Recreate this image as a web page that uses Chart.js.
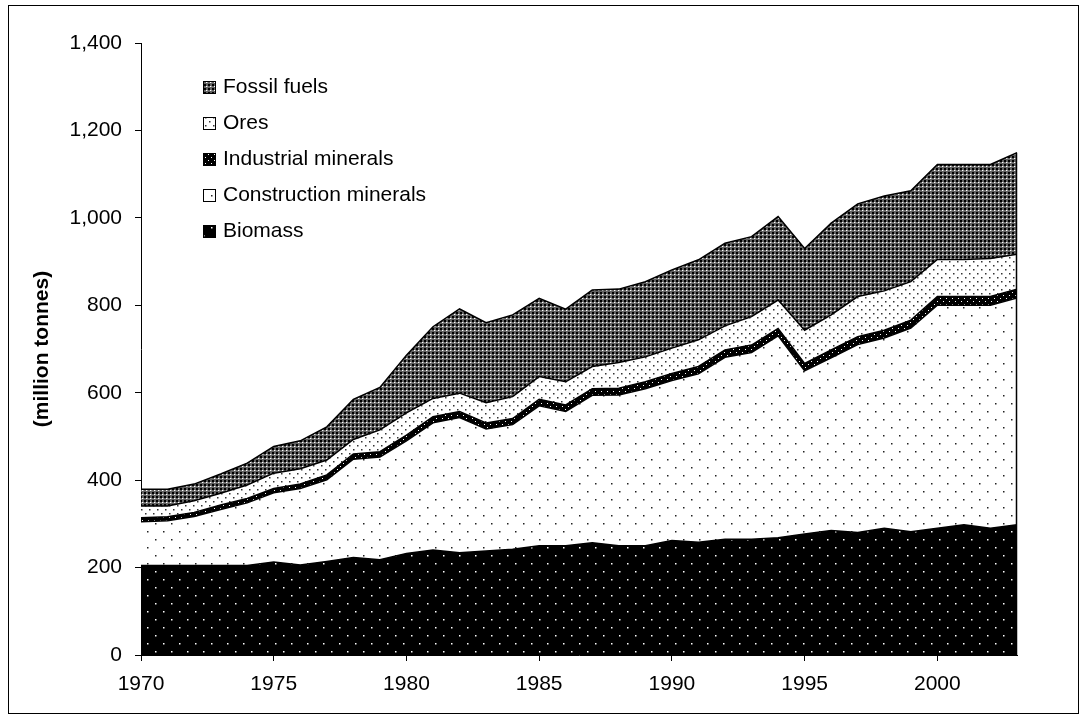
<!DOCTYPE html>
<html>
<head>
<meta charset="utf-8">
<script src="https://cdn.jsdelivr.net/npm/chart.js@4.4.0/dist/chart.umd.min.js"></script>
<style>
  html, body { margin: 0; padding: 0; background: #fff; }
  #wrap { position: relative; width: 1087px; height: 719px; }
  #frame { position: absolute; left: 8px; top: 5px; width: 1069px; height: 707px; border: 1px solid #000; pointer-events: none; }
</style>
</head>
<body>
<div id="wrap">
  <canvas id="myChart" width="1087" height="719"></canvas>
  <div id="frame"></div>
</div>
<script>
const years = [1970, 1971, 1972, 1973, 1974, 1975, 1976, 1977, 1978, 1979,
  1980, 1981, 1982, 1983, 1984, 1985, 1986, 1987, 1988, 1989,
  1990, 1991, 1992, 1993, 1994, 1995, 1996, 1997, 1998, 1999,
  2000, 2001, 2002, 2003];
const biomass = [205, 205, 205, 205, 205, 213, 206, 214, 223, 218, 232, 240, 234, 238, 242, 250, 250, 257, 250, 250, 262, 258, 265, 265, 268, 277, 285, 280, 290, 282, 290, 298, 290, 298];
const construction = [100, 102, 112, 128, 143, 158, 175, 187, 225, 235, 258, 291, 309, 279, 285, 320, 307, 337, 345, 359, 366, 385, 416, 427, 462, 373, 395, 430, 435, 466, 510, 502, 510, 519];
const industrial = [9, 9, 9, 10, 10, 10, 10, 11, 12, 12, 13, 14, 14, 14, 14, 15, 15, 15, 15, 16, 16, 17, 17, 17, 17, 17, 18, 18, 18, 18, 20, 20, 20, 20];
const ores = [27, 25, 27, 27, 31, 35, 35, 34, 33, 50, 51, 42, 42, 46, 50, 52, 53, 51, 59, 57, 58, 61, 55, 65, 65, 76, 80, 92, 90, 88, 85, 85, 87, 80];
const fossil = [38, 38, 38, 44, 50, 61, 64, 76, 92, 97, 132, 164, 193, 183, 187, 179, 166, 175, 168, 172, 179, 183, 189, 183, 191, 187, 210, 212, 217, 208, 217, 217, 215, 232];
const seriesNames = ['Biomass', 'Construction minerals', 'Industrial minerals', 'Ores', 'Fossil fuels'];

const FONT = 'Arial, "Liberation Sans", sans-serif';

// small tiled fills like the old office hatch patterns
function dotPattern(bg, dot, w, h, spots, size) {
  const c = document.createElement('canvas');
  c.width = w; c.height = h;
  const g = c.getContext('2d');
  g.fillStyle = bg;
  g.fillRect(0, 0, w, h);
  g.fillStyle = dot;
  spots.forEach(p => g.fillRect(p[0], p[1], size, size));
  return g.createPattern(c, 'repeat');
}

function trellisPattern() {
  const c = document.createElement('canvas');
  c.width = 4; c.height = 4;
  const g = c.getContext('2d');
  g.fillStyle = '#626262';
  g.fillRect(0, 0, 4, 4);
  g.fillStyle = '#000';
  g.fillRect(0, 0, 2, 2);
  g.fillStyle = '#fff';
  g.fillRect(2, 2, 1, 1);
  g.fillStyle = '#a0a0a0';
  g.fillRect(3, 2, 1, 1);
  return g.createPattern(c, 'repeat');
}

const fills = [
  dotPattern('#000', '#fff', 16, 16, [[3, 3], [11, 11]], 1.5),
  dotPattern('#fff', '#222', 16, 16, [[3, 3], [11, 11]], 1.5),
  dotPattern('#000', '#fff', 6, 6, [[1, 1], [4, 4]], 1),
  dotPattern('#fff', '#333', 8, 8, [[1, 1], [5, 5]], 1.5),
  trellisPattern()
];

const values = [biomass, construction, industrial, ores, fossil];

const legendBoxes = {
  id: 'legendBoxes',
  afterDraw(chart) {
    const ctx = chart.ctx;
    const sets = chart.data.datasets.slice().reverse();
    ctx.save();
    ctx.font = '21px ' + FONT;
    ctx.textBaseline = 'middle';
    sets.forEach((ds, i) => {
      const y = 87 + i * 36;
      ctx.fillStyle = ds.backgroundColor;
      ctx.fillRect(203, y - 6, 13, 13);
      ctx.strokeStyle = '#000';
      ctx.lineWidth = 1;
      ctx.strokeRect(203.5, y - 5.5, 12, 12);
      ctx.fillStyle = '#000';
      ctx.fillText(ds.label, 223, y);
    });
    ctx.restore();
  }
};

// closing edge of the stacked area at the last year
const rightEdge = {
  id: 'rightEdge',
  afterDatasetsDraw(chart) {
    const { ctx, scales } = chart;
    const last = years.length - 1;
    const total = values.reduce((s, arr) => s + arr[last], 0);
    const x = Math.round(scales.x.getPixelForValue(years[last])) - 0.5;
    ctx.save();
    ctx.strokeStyle = '#000';
    ctx.lineWidth = 1.5;
    ctx.beginPath();
    ctx.moveTo(x, scales.y.getPixelForValue(total));
    ctx.lineTo(x, scales.y.getPixelForValue(0));
    ctx.stroke();
    ctx.restore();
  }
};

Chart.defaults.font.family = FONT;
Chart.defaults.color = '#000';

new Chart(document.getElementById('myChart').getContext('2d'), {
  type: 'line',
  data: {
    datasets: seriesNames.map((name, i) => ({
      label: name,
      data: years.map((yr, j) => ({ x: yr, y: values[i][j] })),
      fill: i === 0 ? 'origin' : '-1',
      backgroundColor: fills[i],
      borderColor: '#000',
      borderWidth: 1.5,
      pointRadius: 0,
      tension: 0
    }))
  },
  options: {
    responsive: false,
    animation: false,
    layout: { padding: { top: 43, right: 70, left: 0, bottom: 0 } },
    plugins: {
      legend: { display: false },
      tooltip: { enabled: false }
    },
    scales: {
      x: {
        type: 'linear',
        min: 1970,
        max: 2003,
        afterFit: s => { s.height = 64; },
        grid: { drawOnChartArea: false, tickLength: 6, color: '#000' },
        border: { color: '#000', width: 1 },
        ticks: {
          stepSize: 5,
          includeBounds: false,
          maxRotation: 0,
          padding: 11,
          font: { size: 21 },
          callback: v => String(v)
        }
      },
      y: {
        stacked: true,
        min: 0,
        max: 1400,
        afterFit: s => { s.width = 141; },
        grid: { drawOnChartArea: false, tickLength: 6, color: '#000' },
        border: { color: '#000', width: 1 },
        ticks: { stepSize: 200, padding: 13, font: { size: 21 } },
        title: {
          display: true,
          text: '(million tonnes)',
          font: { size: 21, weight: 'bold' },
          padding: { top: 30, bottom: 0 }
        }
      }
    }
  },
  plugins: [legendBoxes, rightEdge]
});
</script>
</body>
</html>
